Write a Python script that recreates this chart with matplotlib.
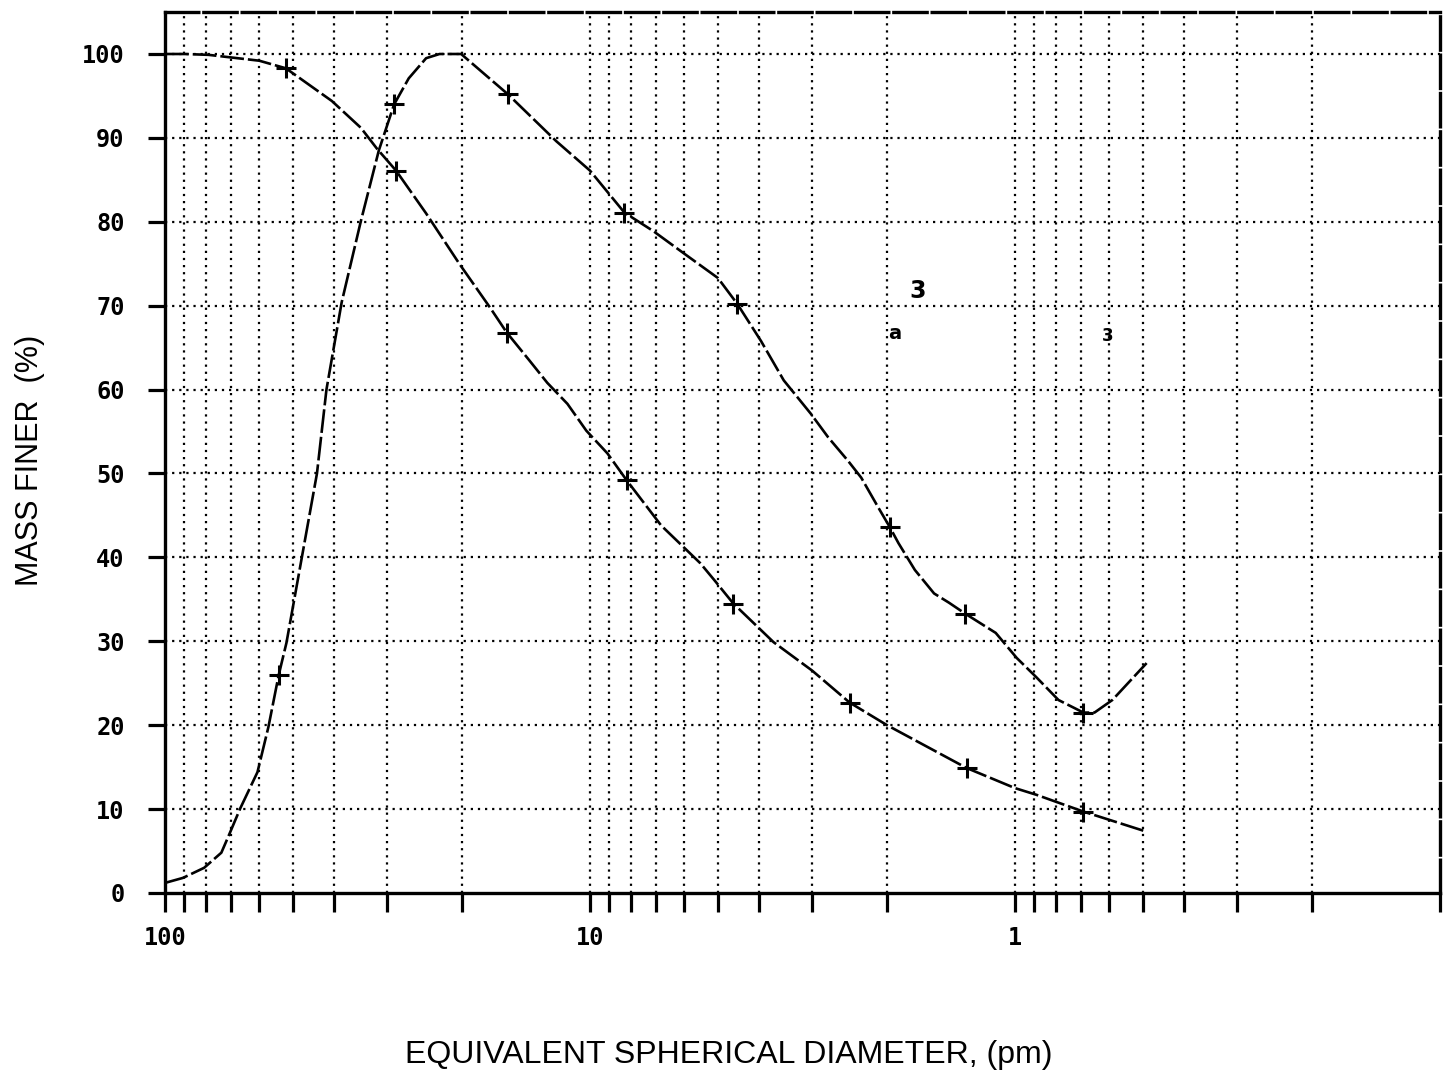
import matplotlib

matplotlib.use("Agg")
import matplotlib.pyplot as plt  # noqa: E402
from matplotlib.ticker import FixedLocator, NullFormatter  # noqa: E402

# Curve 1: cumulative mass finer, falls from 100 % (diameter in um, % finer)
A_DIAM = [100, 90, 79, 60, 52, 50, 40.5, 34.6, 31.7, 28.6, 24.3, 20.3, 17.2, 15.7,
          13.9, 12.6, 11.3, 10.2, 9.1, 8.2, 6.8, 5.5, 5.1, 4.6, 3.7, 3.0, 2.45, 2.0,
          1.3, 1.0, 0.89, 0.69, 0.49]
A_PCT = [100, 100, 99.9, 99.2, 98.3, 97.7, 94.4, 91.2, 88.7, 86.1, 81.0, 75.0, 69.8, 66.8,
         63.5, 60.8, 58.3, 55.1, 52.4, 49.2, 43.8, 39.3, 37.3, 34.5, 29.9, 26.5, 22.7, 20.0,
         14.9, 12.5, 11.7, 9.7, 7.3]
A_MARK_DIAM = [52, 28.6, 15.7, 8.2, 4.6, 2.45, 1.3, 0.69]
A_MARK_PCT = [98.3, 86.1, 66.8, 49.2, 34.5, 22.7, 14.9, 9.7]

# Curve 2: rises to 100 % then falls, with a minimum near 0.7 um
B_DIAM = [100, 90.7, 80.9, 73.7, 71.0, 66.5, 60.6, 57.1, 54.0, 51.8, 43.9, 41.7, 38.4,
          34.6, 31.4, 28.9, 26.7, 24.3, 22.6, 20.1, 15.6, 12.0, 10.0, 8.3, 7.1, 6.0, 5.0,
          4.5, 3.96, 3.50, 3.02, 2.75, 2.47, 2.30, 2.10, 1.97, 1.88, 1.72, 1.55, 1.43,
          1.31, 1.11, 0.99, 0.89, 0.79, 0.69, 0.65, 0.59, 0.49]
B_PCT = [1.2, 1.8, 3.0, 4.8, 6.7, 10.1, 14.4, 19.8, 26.0, 29.8, 50.0, 60.0, 70.4,
         80.1, 88.5, 94.0, 97.1, 99.5, 100, 100, 95.2, 89.6, 86.1, 81.1, 78.9, 76.2, 73.3,
         70.2, 65.8, 61.1, 57.1, 54.3, 51.5, 49.5, 46.0, 43.6, 41.7, 38.5, 35.7, 34.6,
         33.3, 31.0, 28.0, 25.7, 23.0, 21.5, 21.5, 23.0, 27.4]
B_MARK_DIAM = [54.0, 28.9, 15.6, 8.3, 4.5, 1.97, 1.31, 0.69]
B_MARK_PCT = [26.0, 94.0, 95.2, 81.1, 70.2, 43.6, 33.3, 21.5]

Y_TICKS = [0, 10, 20, 30, 40, 50, 60, 70, 80, 90, 100]
X_LABELS = {100: "100", 10: "10", 1: "1"}
X_GRID = [m * 10.0 ** e for e in (-1, 0, 1) for m in range(1, 10)] + [100]

NOTES = [(1.69, 71.8, "3", 17), (1.92, 66.7, "a", 14), (0.606, 66.4, "3", 12)]

fig = plt.figure(figsize=(14.45, 10.76), dpi=100)
ax = fig.add_axes([0.1142, 0.1701, 0.8823, 0.8187])

ax.set_xscale("log")
ax.set_xlim(100, 0.1)
ax.set_ylim(0, 105)

# grid: dotted, every log subdivision and every 10 %
for x in X_GRID:
    if 0.1 < x < 100:
        ax.axvline(x, color="black", lw=1.6, ls=(0, (1, 2.2)), zorder=1)
for y in Y_TICKS[1:]:
    ax.axhline(y, color="black", lw=1.6, ls=(0, (1, 2.2)), zorder=1)

ax.plot(A_DIAM, A_PCT, color="black", lw=1.9, ls=(0, (9, 1.5)), zorder=3)
ax.plot(A_MARK_DIAM, A_MARK_PCT, ls="none", marker="+", ms=14, mew=2.2, color="black", zorder=4)
ax.plot(B_DIAM, B_PCT, color="black", lw=1.9, ls=(0, (9, 1.5)), zorder=3)
ax.plot(B_MARK_DIAM, B_MARK_PCT, ls="none", marker="+", ms=14, mew=2.2, color="black", zorder=4)

for x, y, s, fs in NOTES:
    ax.text(x, y, s, fontsize=fs, fontweight="bold", ha="center", va="center")

# ticks
ax.xaxis.set_major_locator(FixedLocator(X_GRID))
ax.xaxis.set_minor_locator(FixedLocator([]))
ax.xaxis.set_minor_formatter(NullFormatter())
ax.set_xticklabels([X_LABELS.get(round(x, 6), "") for x in X_GRID])
ax.set_yticks(Y_TICKS)
ax.set_yticklabels([str(v) for v in Y_TICKS])
ax.tick_params(axis="x", direction="out", length=14, width=2.3, pad=10)
ax.tick_params(axis="y", direction="out", length=12, width=2.3, pad=17)
for lab in ax.get_xticklabels() + ax.get_yticklabels():
    lab.set_fontfamily("DejaVu Sans Mono")
    lab.set_fontweight("bold")
    lab.set_fontsize(17)

for side in ("left", "bottom"):
    ax.spines[side].set_linewidth(2.4)
for side in ("top", "right"):
    ax.spines[side].set_linewidth(2.4)
    ax.spines[side].set_linestyle((0, (10, 1.5)))

fig.text(0.5045, 0.0195, "EQUIVALENT SPHERICAL DIAMETER, (pm)", ha="center", va="center",
         fontsize=23, family="Liberation Sans")
fig.text(0.021, 0.5725, "MASS FINER  (%)", ha="center", va="center", rotation=90,
         fontsize=22, family="Liberation Sans")

fig.savefig("out.png", dpi=100)
